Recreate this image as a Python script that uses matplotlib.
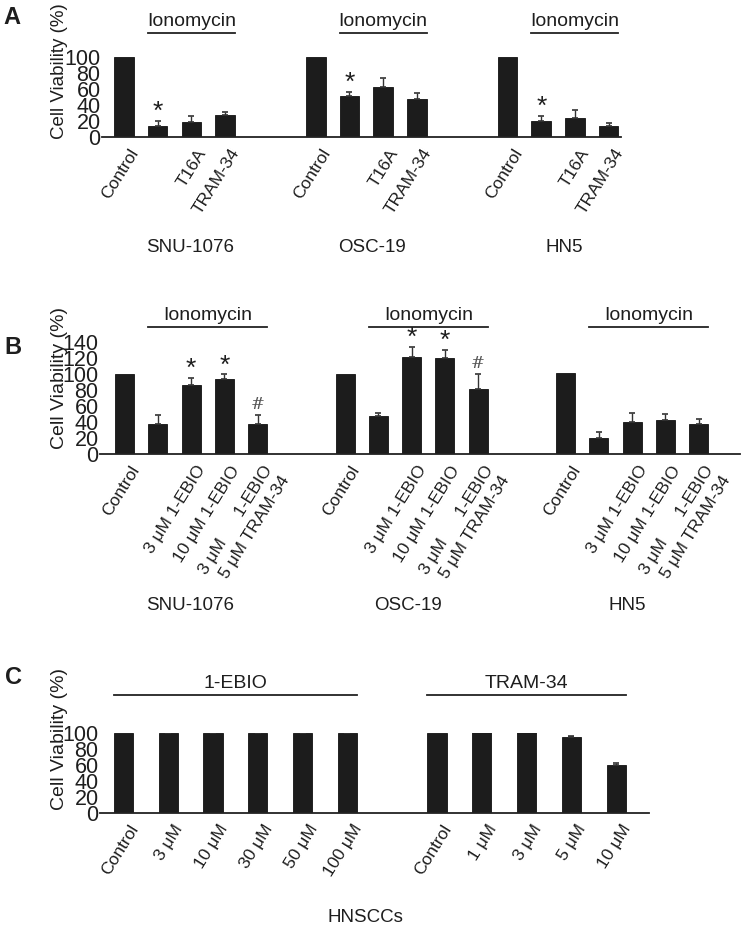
import numpy as np
import matplotlib
matplotlib.use("Agg")
import matplotlib.pyplot as plt
from matplotlib.transforms import ScaledTranslation

plt.rcParams['font.family'] = ['Liberation Sans', 'DejaVu Sans']

W, H, DPI = 744, 926, 100
fig = plt.figure(figsize=(W / DPI, H / DPI), dpi=DPI)

BAR = '#1c1c1c'
TXT = '#1e1e1e'

# ---------------- data ----------------
cell_lines = ['SNU-1076', 'OSC-19', 'HN5']

a_labels = ['Control', '', 'T16A', 'TRAM-34']
a_values = [[100, 14, 18.5, 27], [100, 51, 62, 47.5], [100, 19.5, 24, 14]]
a_errors = [[0, 6, 7.5, 4.5], [0, 5, 12, 8], [0, 7, 10, 3]]
a_stars = [[0, 1, 0, 0], [0, 1, 0, 0], [0, 1, 0, 0]]

b_labels = ['Control', '', '3 μM 1-EBIO', '10 μM 1-EBIO',
            '3 μM      1-EBIO\n5 μM TRAM-34']
b_values = [[100, 37.5, 86, 94, 37.5], [100, 47, 121.5, 120.5, 81],
            [101.5, 20.5, 40.5, 42, 37]]
b_errors = [[0, 11.5, 9.5, 5.5, 11.5], [0, 4.5, 12.5, 9.5, 19],
            [0, 7, 10.5, 8.5, 7]]
b_marks = [['', '', '*', '*', '#'], ['', '', '*', '*', '#'],
           ['', '', '', '', '']]

c_ebio_labels = ['Control', '3 μM', '10 μM', '30 μM', '50 μM', '100 μM']
c_ebio_values = [100, 100, 100, 100, 100, 100]
c_ebio_errors = [0, 2.4, 3.5, 1.8, 3.8, 2.2]
c_tram_labels = ['Control', '1 μM', '3 μM', '5 μM', '10 μM']
c_tram_values = [100, 101, 100.3, 94.7, 60]
c_tram_errors = [0, 1.5, 1.2, 1.3, 2]


def px_axes(left, right, bottom, top):
    return fig.add_axes([left / W, 1 - bottom / H, (right - left) / W,
                         (bottom - top) / H])


def style(ax, ymax, step):
    for s in ['top', 'right', 'left']:
        ax.spines[s].set_visible(False)
    ax.spines['bottom'].set_linewidth(1.3)
    ax.spines['bottom'].set_color('#222222')
    ax.set_ylim(0, ymax)
    ax.set_yticks(np.arange(0, ymax + 1, step))
    ax.tick_params(axis='y', length=0, pad=1, labelsize=15.5, colors=TXT)
    ax.tick_params(axis='x', length=0)
    ax.set_xticks([])


def bars(ax, x, vals, errs, width):
    ax.bar(x, vals, width=width, color=BAR, edgecolor='#111111', linewidth=0.6,
           zorder=2)
    errs = np.asarray(errs, float)
    m = errs > 0
    ax.errorbar(np.asarray(x)[m], np.asarray(vals)[m],
                yerr=[np.zeros(m.sum()), errs[m]], fmt='none',
                ecolor='#333333', elinewidth=1.0, capsize=2.5, capthick=1.2,
                zorder=3)


def xlabels(ax, x, labels, dx=5, dy=-9, rot=58, fs=12.5, **kw):
    off = ScaledTranslation(dx / DPI, dy / DPI, fig.dpi_scale_trans)
    for xi, lab in zip(x, labels):
        if lab:
            ax.text(xi, 0, lab, rotation=rot, rotation_mode='anchor',
                    ha='right', va='top', fontsize=fs, color=TXT,
                    transform=ax.transData + off, **kw)


def bracket(ax, x0, x1, yline, ytext, text, fs=14):
    ax.plot([x0, x1], [yline, yline], color='#222222', lw=1.3, clip_on=False)
    ax.text((x0 + x1) / 2, ytext, text, ha='center', va='center',
            fontsize=fs, color=TXT, clip_on=False)


def ylabel(ax, xpix, ypix, fs=14):
    fig.text(xpix / W, 1 - ypix / H, 'Cell Viability (%)', rotation=90,
             ha='center', va='center', fontsize=fs, color=TXT)


def mark(ax, x, ytop, sym, px_per_unit):
    if sym == '*':
        ax.text(x, ytop + 2 / px_per_unit, '*', ha='center', va='baseline',
                fontsize=19, color=TXT, clip_on=False)
    elif sym == '#':
        ax.text(x, ytop + 5.5 / px_per_unit, '#', ha='center', va='baseline',
                fontsize=12, color='#555555', family='DejaVu Serif',
                clip_on=False)


PPU = 0.8  # pixels per y unit

# ---------------- panel A ----------------
axA = px_axes(102, 621, 137, 57)
style(axA, 100, 20)
GA, wA = 5.7, 0.58
axA.set_xlim(-0.654, 14.77)
for g in range(3):
    x = g * GA + np.arange(4)
    bars(axA, x, a_values[g], a_errors[g], wA)
    xlabels(axA, x, a_labels)
    for i in range(4):
        if a_stars[g][i]:
            mark(axA, x[i], a_values[g][i] + a_errors[g][i], '*', PPU)
    bracket(axA, x[1] - wA / 2, x[3] + wA / 2, 130, 144, 'Ionomycin')
for xpix, name in zip([190, 372, 564], cell_lines):
    fig.text(xpix / W, 1 - 248 / H, name, ha='center', va='center',
             fontsize=13.5, color=TXT)
ylabel(axA, 60, 71, fs=13.5)
fig.text(12 / W, 1 - 17 / H, 'A', fontsize=17, fontweight='bold',
         ha='center', va='center', color=TXT)

# ---------------- panel B ----------------
axB = px_axes(100, 740, 454, 342)
style(axB, 140, 20)
GB, wB = 6.63, 0.57
axB.set_xlim(-0.736, 18.5)
for g in range(3):
    x = g * GB + np.arange(5)
    bars(axB, x, b_values[g], b_errors[g], wB)
    xlabels(axB, x, b_labels, linespacing=1.4)
    for i in range(5):
        if b_marks[g][i]:
            mark(axB, x[i], b_values[g][i] + b_errors[g][i], b_marks[g][i], PPU)
    bracket(axB, x[1] - wB / 2, x[4] + wB / 2, 158.75, 173.75, 'Ionomycin')
for xpix, name in zip([190, 408, 627], cell_lines):
    fig.text(xpix / W, 1 - 605 / H, name, ha='center', va='center',
             fontsize=13.5, color=TXT)
ylabel(axB, 60, 378)
fig.text(13 / W, 1 - 348 / H, 'B', fontsize=17, fontweight='bold',
         ha='center', va='center', color=TXT)

# ---------------- panel C ----------------
axC = px_axes(100, 649.3, 812.7, 732.7)
style(axC, 100, 20)
wC = 0.43
axC.set_xlim(-0.525, 11.74)
xe = np.arange(len(c_ebio_values))
xt = 7 + np.arange(len(c_tram_values))
bars(axC, xe, c_ebio_values, c_ebio_errors, wC)
bars(axC, xt, c_tram_values, c_tram_errors, wC)
xlabels(axC, xe, c_ebio_labels)
xlabels(axC, xt, c_tram_labels)
bracket(axC, xe[0] - wC / 2, xe[-1] + wC / 2, 147, 162, '1-EBIO')
bracket(axC, xt[0] - wC / 2, xt[-1] + wC / 2, 147, 162, 'TRAM-34')
fig.text(365 / W, 1 - 917 / H, 'HNSCCs', ha='center', va='center',
         fontsize=13.5, color=TXT)
ylabel(axC, 60, 739)
fig.text(14 / W, 1 - 677 / H, 'C', fontsize=17, fontweight='bold',
         ha='center', va='center', color=TXT)

fig.savefig('out.png', dpi=DPI, facecolor='white')
